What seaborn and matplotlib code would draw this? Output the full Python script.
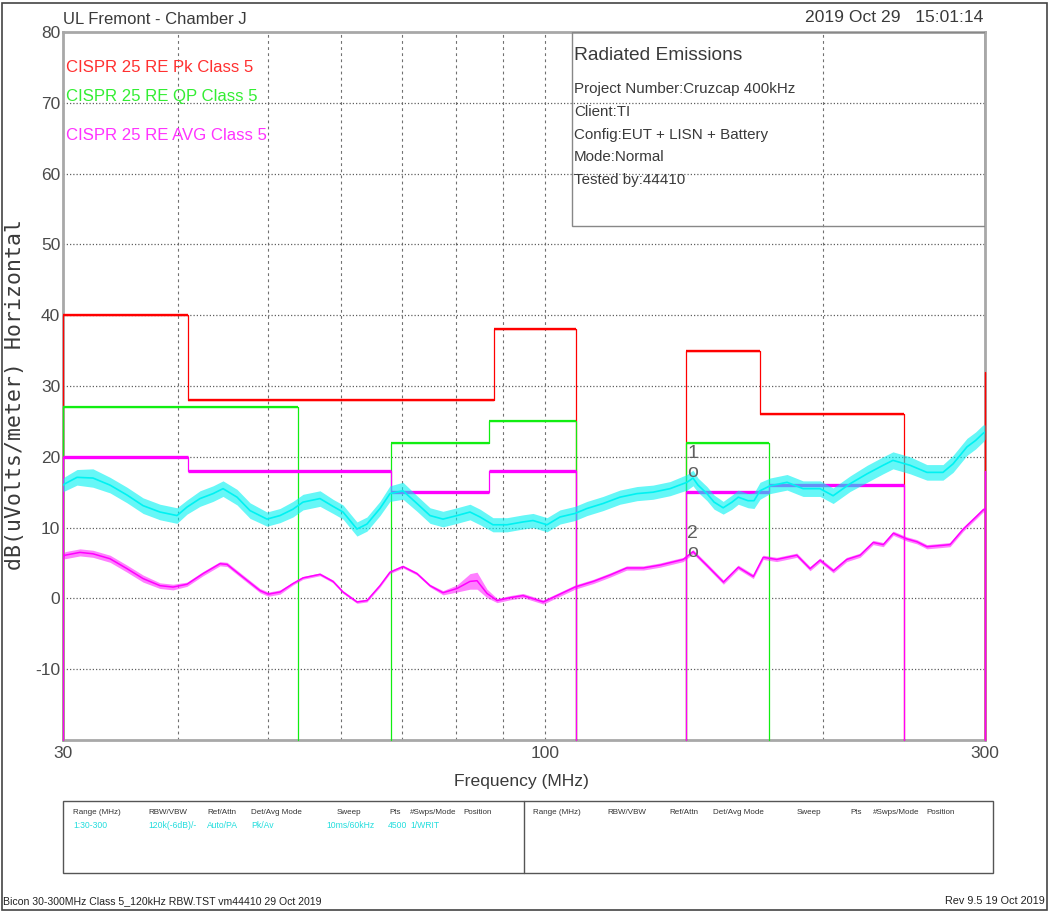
import numpy as np
import pandas as pd
import matplotlib
matplotlib.use("Agg")
import matplotlib.pyplot as plt
from matplotlib.patches import Rectangle
from matplotlib.ticker import NullLocator
import seaborn as sns

# ---------------- data ----------------
# limit lines (band start MHz, band stop MHz, level dBuV/m)
pk_start = [30, 41, 88, 142, 171, 300]
pk_stop = [41, 88, 108, 171, 245, 300]
pk_level = [40, 28, 38, 35, 26, 32]

qp_start = [30, 68, 87, 142]
qp_stop = [54, 87, 108, 175]
qp_level = [27, 22, 25, 22]

avg_start = [30, 41, 68, 87, 142, 175, 300]
avg_stop = [41, 68, 87, 108, 175, 245, 300]
avg_level = [20, 18, 15, 18, 15, 16, 18]

# peak trace (cyan): frequency, centre level, half-spread of the noise band
peak_freq = [30.0, 30.15, 31.07, 32.33, 33.74, 35.20, 36.64, 38.22, 39.88, 40.89, 42.24,
             43.64, 44.74, 46.33, 47.86, 49.93, 51.58, 53.28, 54.63, 57.00, 58.88,
             60.37, 62.51, 64.09, 66.21, 67.88, 70.12, 72.62, 75.02, 77.49, 80.25,
             82.90, 85.00, 87.80, 90.93, 94.64, 97.03, 100.48, 103.79, 107.75, 111.03,
             115.56, 120.57, 125.79, 130.92, 136.60, 142.53, 144.68, 146.5, 149.82, 152.5,
             156.0, 159.5, 162.0, 166.0, 168.5, 171.05, 175.37, 183.0, 190.45, 198.7,
             205.3, 214.2, 223.5, 232.6, 238.4, 248.8, 259.5, 270.1, 277.0, 286.8,
             293.0, 298.5, 300.0]
peak_mid = [16.0, 16.2, 17.1, 17.0, 16.0, 14.6, 13.1, 12.2, 11.7, 12.9, 14.1,
            14.8, 15.5, 14.3, 12.4, 11.2, 11.7, 12.6, 13.6, 14.1, 13.0,
            12.2, 9.8, 10.5, 12.7, 14.8, 15.2, 13.4, 11.7, 11.2, 11.7,
            12.2, 11.5, 10.4, 10.4, 10.8, 11.0, 10.4, 11.5, 12.0, 12.7,
            13.4, 14.3, 14.8, 15.0, 15.5, 16.4, 17.0, 16.0, 14.8, 13.6,
            12.8, 13.6, 14.3, 13.8, 13.8, 15.2, 15.9, 16.4, 15.5, 15.5,
            14.5, 16.2, 17.6, 18.8, 19.5, 18.8, 17.8, 17.8, 19.0, 21.4,
            22.3, 23.3, 23.5]
peak_spread = [0.9, 1.0, 1.1, 1.3, 1.1, 1.1, 1.1, 1.1, 1.1, 1.0, 1.1,
               1.1, 1.1, 1.1, 1.1, 1.0, 1.0, 1.1, 1.1, 1.1, 1.0,
               1.0, 1.0, 1.0, 1.0, 1.1, 1.2, 1.1, 1.1, 1.1, 1.1,
               1.1, 1.1, 1.0, 1.0, 1.0, 1.0, 1.0, 1.0, 1.0, 1.0,
               1.0, 1.0, 1.0, 1.0, 1.0, 1.1, 1.1, 1.0, 1.0, 1.0,
               0.9, 1.0, 1.0, 1.0, 1.1, 1.2, 1.1, 1.1, 1.1, 1.1,
               1.1, 1.1, 1.2, 1.2, 1.2, 1.2, 1.1, 1.1, 1.2, 1.2,
               1.2, 1.2, 1.0]

# average trace (magenta)
avg_freq = [30.0, 30.15, 31.3, 32.33, 33.74, 35.20, 36.64, 38.22, 39.49, 40.89, 42.56,
            44.40, 45.19, 47.03, 49.07, 50.10, 51.58, 53.28, 54.63, 57.00, 58.88,
            60.37, 62.51, 64.09, 66.21, 67.88, 70.12, 72.62, 75.02, 77.49, 80.25,
            82.90, 84.37, 86.50, 88.70, 91.60, 94.64, 99.55, 103.79, 107.75, 112.8,
            117.6, 122.6, 127.8, 133.2, 141.2, 144.7, 149.7, 156.1, 162.0, 168.2,
            172.4, 178.3, 187.5, 193.8, 198.7, 205.4, 212.4, 219.6, 226.9, 232.7,
            238.6, 246.8, 253.1, 259.5, 270.1, 274.9, 284.2, 293.8, 298.6, 300.0]
avg_trace = [5.9, 6.1, 6.5, 6.3, 5.6, 4.2, 2.8, 1.8, 1.6, 2.0, 3.5,
             4.9, 4.8, 3.0, 1.1, 0.6, 0.9, 2.1, 2.9, 3.4, 2.4,
             0.9, -0.5, -0.3, 1.8, 3.7, 4.5, 3.5, 1.8, 0.8, 1.4,
             2.4, 2.5, 0.7, -0.3, 0.1, 0.4, -0.5, 0.6, 1.6, 2.4,
             3.3, 4.3, 4.3, 4.7, 5.5, 6.6, 4.7, 2.3, 4.4, 3.1,
             5.8, 5.5, 6.1, 4.2, 5.4, 3.9, 5.5, 6.1, 7.9, 7.6,
             9.2, 8.4, 8.0, 7.3, 7.5, 7.6, 9.8, 11.6, 12.5, 12.6]
avg_spread = [0.3, 0.5, 0.5, 0.5, 0.5, 0.5, 0.5, 0.4, 0.4, 0.3, 0.3,
              0.3, 0.3, 0.3, 0.3, 0.3, 0.3, 0.2, 0.2, 0.2, 0.2,
              0.2, 0.2, 0.2, 0.2, 0.2, 0.2, 0.2, 0.2, 0.3, 0.5,
              1.1, 1.2, 0.6, 0.3, 0.3, 0.3, 0.3, 0.3, 0.3, 0.3,
              0.3, 0.3, 0.3, 0.3, 0.3, 0.3, 0.3, 0.3, 0.3, 0.3,
              0.3, 0.3, 0.3, 0.3, 0.3, 0.3, 0.3, 0.3, 0.3, 0.3,
              0.3, 0.3, 0.3, 0.3, 0.3, 0.3, 0.3, 0.3, 0.3, 0.3]

marker_freq = [144.5, 144.5]
marker_level = [17.8, 6.5]
marker_names = ["1", "2"]

x_ticks = [30, 100, 300]
x_tick_labels = ["30", "100", "300"]
y_ticks = [-10, 0, 10, 20, 30, 40, 50, 60, 70, 80]
grid_freqs = [40, 50, 60, 70, 80, 90, 100, 200]

legend_texts = ["CISPR 25 RE Pk Class 5", "CISPR 25 RE QP Class 5", "CISPR 25 RE AVG Class 5"]
info_title = "Radiated Emissions"
info_lines = ["Project Number:Cruzcap 400kHz", "Client:TI", "Config:EUT + LISN + Battery",
              "Mode:Normal", "Tested by:44410"]
table_headers = ["Range (MHz)", "RBW/VBW", "Ref/Attn", "Det/Avg Mode", "Sweep", "Pts",
                 "#Swps/Mode", "Position"]
table_values = ["1:30-300", "120k(-6dB)/-", "Auto/PA", "Pk/Av", "10ms/60kHz", "4500", "1/WRIT"]

# ---------------- style ----------------
sns.set_theme(style="white")
plt.rcParams['font.family'] = ['Liberation Sans', 'DejaVu Sans']

RED = "#FF0000"
GREEN = "#11EE11"
MAG = "#FF00FF"
CYAN = "#00F2F2"
TXT = "#3A3A3A"
W, H = 1050, 913


def fx(px):
    return px / W


def fy(py):
    return 1 - py / H


fig = plt.figure(figsize=(10.5, 9.13), dpi=100)
ax = fig.add_axes([fx(63), fy(740), (985 - 63) / W, (740 - 32) / H])
ax.set_xscale('log')
ax.set_xlim(30, 300)
ax.set_ylim(-20, 80)

# grid
for gf in grid_freqs:
    ax.axvline(gf, color="#707070", lw=0.8, ls=(0, (2.5, 3)), zorder=1)
for yv in y_ticks[:-1]:
    ax.axhline(yv, color="#606060", lw=0.9, ls=(0, (1, 1.6)), zorder=1)


def step_groups(starts, stops, levels, floor=-20):
    groups = []
    cur = None
    for s, e, l in zip(starts, stops, levels):
        if cur is not None and abs(s - cur[-1][0]) < 1e-9 and s != e:
            cur += [(s, l), (e, l)]
        else:
            if cur:
                cur.append((cur[-1][0], floor))
                groups.append(cur)
            cur = [(s, floor), (s, l), (e, l)]
    cur.append((cur[-1][0], floor))
    groups.append(cur)
    return groups


limit_sets = [
    (pk_start, pk_stop, pk_level, RED, 1.7, 3),
    (qp_start, qp_stop, qp_level, GREEN, 1.6, 4),
    (avg_start, avg_stop, avg_level, MAG, 2.4, 5),
]
for starts, stops, levels, col, hlw, z in limit_sets:
    for g in step_groups(starts, stops, levels):
        df = pd.DataFrame(g, columns=["f", "v"])
        sns.lineplot(data=df, x="f", y="v", sort=False, estimator=None, color=col,
                     lw=0.9, ax=ax, zorder=z, clip_on=False, legend=False)
    ax.hlines(levels, starts, stops, colors=col, lw=hlw, zorder=z)

# traces
pf = np.array(peak_freq)
pm = np.array(peak_mid)
ps = np.array(peak_spread)
ax.fill_between(pf, pm - ps, pm + ps, color=CYAN, lw=0, alpha=0.6, zorder=6)
sns.lineplot(x=pf, y=pm, sort=False, estimator=None, color=CYAN, lw=1.2, ax=ax, zorder=6)

af = np.array(avg_freq)
am = np.array(avg_trace)
asp = np.array(avg_spread)
ax.fill_between(af, am - asp, am + asp, color=MAG, lw=0, alpha=0.5, zorder=6)
sns.lineplot(x=af, y=am, sort=False, estimator=None, color=MAG, lw=1.1, ax=ax, zorder=6)

# markers
for mf, ml, mn in zip(marker_freq, marker_level, marker_names):
    ax.text(mf, ml, "o", color="#606060", fontsize=14, ha="center", va="center", zorder=8)
    ax.text(mf, ml + 2.6, mn, color="#606060", fontsize=14, ha="center", va="center", zorder=8)

# axes styling
ax.set_xticks(x_ticks)
ax.set_xticklabels(x_tick_labels)
ax.xaxis.set_minor_locator(NullLocator())
ax.set_yticks(y_ticks)
ax.set_yticklabels([str(v) for v in y_ticks])
ax.tick_params(axis="both", length=0, labelsize=12.5, labelcolor="#4A4A4A")
ax.tick_params(axis="x", pad=4)
ax.tick_params(axis="y", pad=2)
ax.set_xlabel("")
ax.set_ylabel("")
for sp in ax.spines.values():
    sp.set_color("#A8A8A8")
    sp.set_linewidth(2.0)

# info box
ax.add_patch(Rectangle((fx(572), fy(226)), fx(985) - fx(572), fy(32) - fy(226),
                       transform=fig.transFigure, fill=False, ec="#888888", lw=1.0, zorder=9))
fig.text(fx(574), fy(56), info_title, fontsize=13.8, color=TXT, va="center", ha="left")
for i, line in enumerate(info_lines):
    fig.text(fx(574), fy(89 + i * 22.8), line, fontsize=10.9, color=TXT, va="center", ha="left")

# legend-like texts
for txt, col, py in zip(legend_texts, ["#FF3030", "#33EE33", "#FF33FF"], [67, 97, 135]):
    fig.text(fx(66), fy(py), txt, fontsize=12.1, color=col, va="center", ha="left")

# header / footer texts
fig.text(fx(63), fy(19), "UL Fremont - Chamber J", fontsize=12, color=TXT, va="center", ha="left")
fig.text(fx(983), fy(18), "2019 Oct 29   15:01:14", fontsize=12.6, color=TXT, va="center", ha="right")
fig.text(fx(521), fy(781), "Frequency (MHz)", fontsize=12.6, color=TXT, va="center", ha="center")
fig.text(fx(15), fy(394), "dB(uVolts/meter) Horizontal", fontsize=15.5, color=TXT, va="center",
         ha="center", rotation=90, family=["DejaVu Sans Mono"])
fig.text(fx(3), fy(901), "Bicon 30-300MHz Class 5_120kHz RBW.TST vm44410 29 Oct 2019", fontsize=7.6,
         color="#222222", va="center", ha="left")
fig.text(fx(1045), fy(901), "Rev 9.5 19 Oct 2019", fontsize=7.8, color="#222222", va="center", ha="right")

# settings table
fig.add_artist(Rectangle((fx(63), fy(873)), fx(993) - fx(63), fy(801) - fy(873),
                         transform=fig.transFigure, fill=False, ec="#555555", lw=1.0))
fig.add_artist(plt.Line2D([fx(524), fx(524)], [fy(873), fy(801)], transform=fig.transFigure,
                          color="#555555", lw=1.0))
left_hx = [73, 148, 207, 251, 337, 389, 410, 463]
right_hx = [533, 607, 669, 713, 797, 850, 873, 926]
val_x = [73, 148, 207, 251, 326, 388, 410]
for hx, h in zip(left_hx, table_headers):
    fig.text(fx(hx), fy(813), h, fontsize=5.8, color="#333333", va="center", ha="left")
for hx, h in zip(right_hx, table_headers):
    fig.text(fx(hx), fy(813), h, fontsize=5.8, color="#333333", va="center", ha="left")
for vx, v in zip(val_x, table_values):
    fig.text(fx(vx), fy(826), v, fontsize=6.2, color="#22DDDD", va="center", ha="left")

# outer frame
fig.add_artist(Rectangle((fx(2), fy(910)), fx(1047) - fx(2), fy(3) - fy(910),
                         transform=fig.transFigure, fill=False, ec="#444444", lw=1.2))

fig.savefig("out.png", dpi=100)
